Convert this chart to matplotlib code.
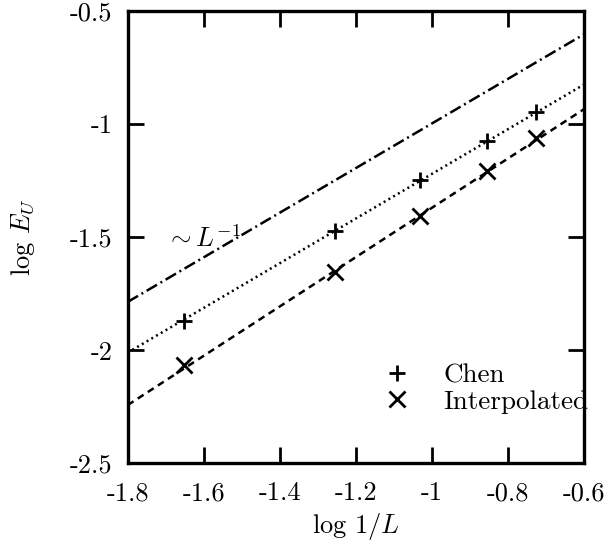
import matplotlib
matplotlib.use("Agg")
import matplotlib.pyplot as plt
from matplotlib.lines import Line2D

plt.rcParams['font.family'] = 'serif'
plt.rcParams['font.serif'] = ['cmr10']
plt.rcParams['mathtext.fontset'] = 'cm'
plt.rcParams['axes.unicode_minus'] = False
plt.rcParams['axes.formatter.use_mathtext'] = True

# data
log_inv_L = [-1.653, -1.255, -1.032, -0.854, -0.725]
chen = [-1.871, -1.472, -1.247, -1.076, -0.947]
interp = [-2.065, -1.653, -1.406, -1.209, -1.062]

line_x = [-1.8, -0.6]
ref_line = [-1.786, -0.603]      # ~ L^-1
chen_fit = [-2.010, -0.825]
interp_fit = [-2.242, -0.934]

xticks = [-1.8, -1.6, -1.4, -1.2, -1.0, -0.8, -0.6]
xticklabels = ['-1.8', '-1.6', '-1.4', '-1.2', '-1', '-0.8', '-0.6']
yticks = [-2.5, -2.0, -1.5, -1.0, -0.5]
yticklabels = ['-2.5', '-2', '-1.5', '-1', '-0.5']

fig = plt.figure(figsize=(6.07, 5.46), dpi=100)
ax = fig.add_axes([0.2103, 0.1511, 0.7518, 0.8288])

lw = 1.8
ax.plot(line_x, ref_line, color='black', lw=lw, dashes=(4.8, 1.6, 0.8, 1.6))
ax.plot(line_x, chen_fit, color='black', lw=lw, dashes=(0.8, 1.4))
ax.plot(line_x, interp_fit, color='black', lw=lw, dashes=(2.8, 2.0))

ax.plot(log_inv_L, chen, linestyle='none', marker='+', ms=12, mew=2.0, color='black')
ax.plot(log_inv_L, interp, linestyle='none', marker='x', ms=11, mew=2.0, color='black')

ax.text(-1.70, -1.545, r'$\sim L^{-1}$', fontsize=19, ha='left', va='baseline')

ax.set_xlim(-1.8, -0.6)
ax.set_ylim(-2.5, -0.5)
ax.set_xticks(xticks)
ax.set_xticklabels(xticklabels)
ax.set_yticks(yticks)
ax.set_yticklabels(yticklabels)
ax.tick_params(direction='in', length=11.5, width=2.0, labelsize=19,
               top=True, right=True, pad=11)
ax.tick_params(axis='x', pad=13)
for s in ax.spines.values():
    s.set_linewidth(2.4)

ax.set_xlabel(r'log 1/$L$', fontsize=19)
ax.xaxis.set_label_coords(0.5, -0.105)
ax.set_ylabel(r'log $E_U$', fontsize=19)
ax.yaxis.set_label_coords(-0.199, 0.5)

handles = [Line2D([], [], linestyle='none', marker='+', ms=12, mew=2.0, color='black'),
           Line2D([], [], linestyle='none', marker='x', ms=11, mew=2.0, color='black')]
leg = ax.legend(handles, ['Chen', 'Interpolated'], loc='center left',
                bbox_to_anchor=(0.531, 0.166), frameon=False, fontsize=19.5,
                borderpad=0, borderaxespad=0, handlelength=2.0,
                handletextpad=0.72, labelspacing=0.1)
leg.set_zorder(5)

fig.savefig('out.png', dpi=100)
